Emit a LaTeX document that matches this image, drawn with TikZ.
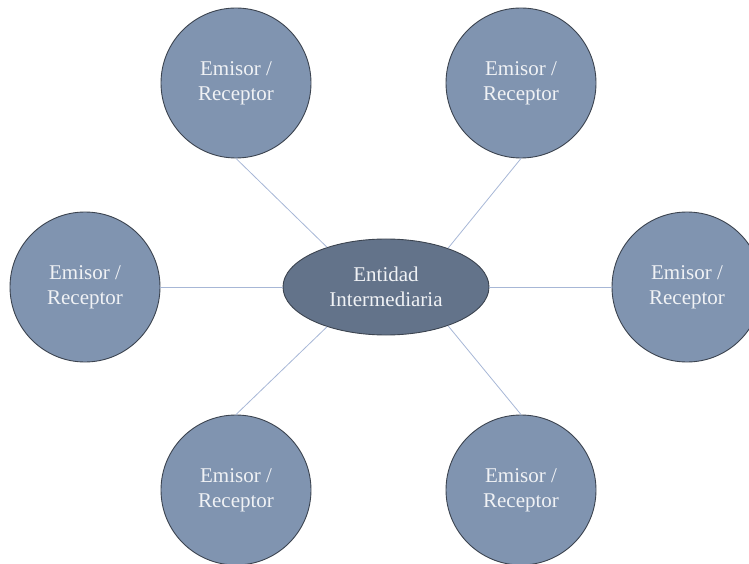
\documentclass[tikz,border=0pt]{standalone}
\usepackage{fontspec}
\setmainfont{Liberation Serif}
\usepackage{tikz}
\usetikzlibrary{shapes.geometric}
\definecolor{recfill}{RGB}{128,148,176}
\definecolor{midfill}{RGB}{99,115,138}
\definecolor{edge}{RGB}{60,68,80}
\definecolor{link}{RGB}{167,183,214}
\definecolor{lbl}{RGB}{240,242,245}

\begin{document}
\begin{tikzpicture}[x=1pt, y=1pt, rec/.style = {circle, draw=edge, fill=recfill, line width=0.9pt, minimum size=150pt, inner sep=0pt, align=center, text=lbl, font=\fontsize{21}{25}\selectfont}, link/.style = {draw=link, line width=0.8pt}]
\useasboundingbox (0,0) rectangle (749,563);
\node (inter) [ellipse, draw=edge, fill=midfill, line width=0.9pt, minimum width=206pt, minimum height=96pt, inner sep=0pt, align=center, text=lbl, font=\fontsize{21}{25}\selectfont] at (386,276) {Entidad\\Intermediaria};
\node (recTL) [rec] at (236,480) {Emisor /\\Receptor};
\node (recTR) [rec] at (521,480) {Emisor /\\Receptor};
\node (recL) [rec] at (85,276) {Emisor /\\Receptor};
\node (recR) [rec] at (687,276) {Emisor /\\Receptor};
\node (recBL) [rec] at (236,73) {Emisor /\\Receptor};
\node (recBR) [rec] at (521,73) {Emisor /\\Receptor};
\draw[link] (recTL.south) -- (inter.146);
\draw[link] (recTR.south) -- (inter.32);
\draw[link] (recL.east) -- (inter.west);
\draw[link] (inter.east) -- (recR.west);
\draw[link] (recBL.north) -- (inter.-146);
\draw[link] (recBR.north) -- (inter.-32);
\end{tikzpicture}
\end{document}
